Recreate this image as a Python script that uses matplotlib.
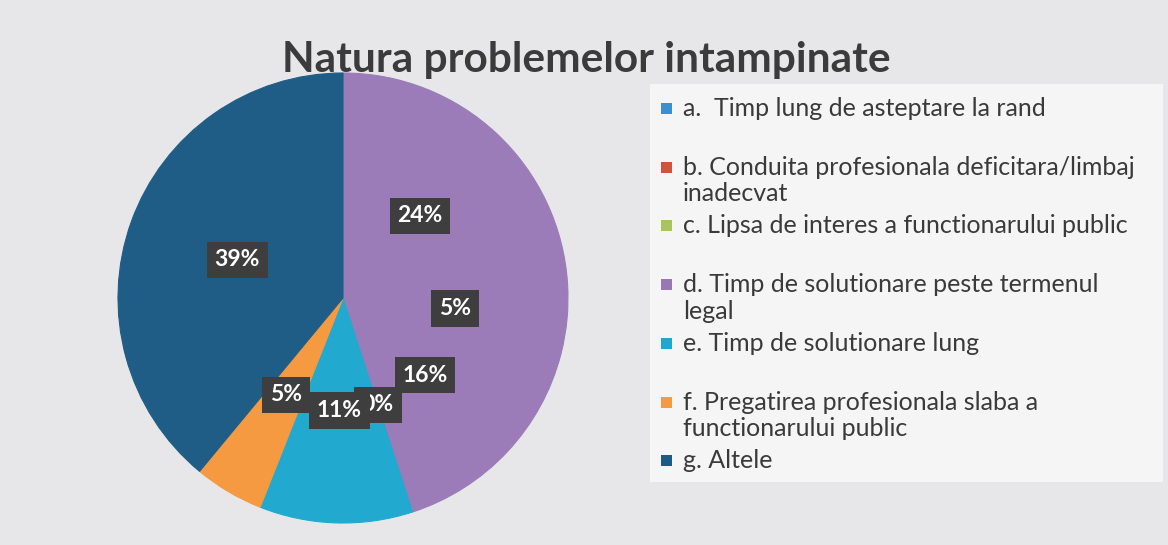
import matplotlib
matplotlib.use("Agg")
import matplotlib.pyplot as plt
from matplotlib.patches import Rectangle

categories = [
    "a.  Timp lung de asteptare la rand",
    "b. Conduita profesionala deficitara/limbaj\ninadecvat",
    "c. Lipsa de interes a functionarului public",
    "d. Timp de solutionare peste termenul\nlegal",
    "e. Timp de solutionare lung",
    "f. Pregatirea profesionala slaba a\nfunctionarului public",
    "g. Altele",
]
values = [24, 5, 16, 0, 11, 5, 39]
legend_colors = ["#3a8fd0", "#cf5538", "#a9c45c", "#9878b4", "#21a7cd", "#f39a44", "#1e5b84"]
slice_colors = ["#9b7bb8", "#9b7bb8", "#9b7bb8", "#9b7bb8", "#22a9cf", "#f59a40", "#1f5d86"]
title = "Natura problemelor intampinate"

W, H = 1168, 545
fig = plt.figure(figsize=(W / 100, H / 100), dpi=100, facecolor="#e7e7ea")

# lighter panel behind the legend
fig.patches.append(Rectangle((650 / W, 1 - 482 / H), (1163 - 650) / W, (482 - 84) / H,
                             transform=fig.transFigure, facecolor="#f5f5f6",
                             edgecolor="none", zorder=0))

cx, cy, r = 343, 298, 225
ax = fig.add_axes([(cx - r) / W, (H - cy - r) / H, 2 * r / W, 2 * r / H])
wedges, texts, autotexts = ax.pie(
    values, colors=slice_colors, startangle=90, counterclock=False,
    autopct="%.0f%%", pctdistance=0.5, radius=1,
    wedgeprops=dict(linewidth=0.8),
    textprops=dict(color="white", fontsize=16.5, fontweight="bold", family="Lato"),
)
for w in wedges:
    w.set_edgecolor(w.get_facecolor())
for t in autotexts:
    t.set_bbox(dict(boxstyle="square,pad=0.34", facecolor="#3e3e3e", edgecolor="none"))
ax.set_xlim(-1, 1)
ax.set_ylim(-1, 1)
ax.set_aspect("equal")
ax.axis("off")

fig.text(586 / W, 1 - 60 / H, title, ha="center", va="center",
         fontsize=30.5, fontweight="bold", family="Lato", color="#3b3b3b")

# legend entries
y0, step = 108, 58.7
for i, (lab, col) in enumerate(zip(categories, legend_colors)):
    y = y0 + i * step
    fig.patches.append(Rectangle((661 / W, 1 - (y + 6) / H), 11 / W, 11 / H,
                                 transform=fig.transFigure, facecolor=col,
                                 edgecolor="none", zorder=2))
    fig.text(683 / W, 1 - (y - 11) / H, lab, ha="left", va="top",
             fontsize=18, family="Lato", color="#3a3a3a", linespacing=1.2)

fig.savefig("out.png", dpi=100, facecolor=fig.get_facecolor())
